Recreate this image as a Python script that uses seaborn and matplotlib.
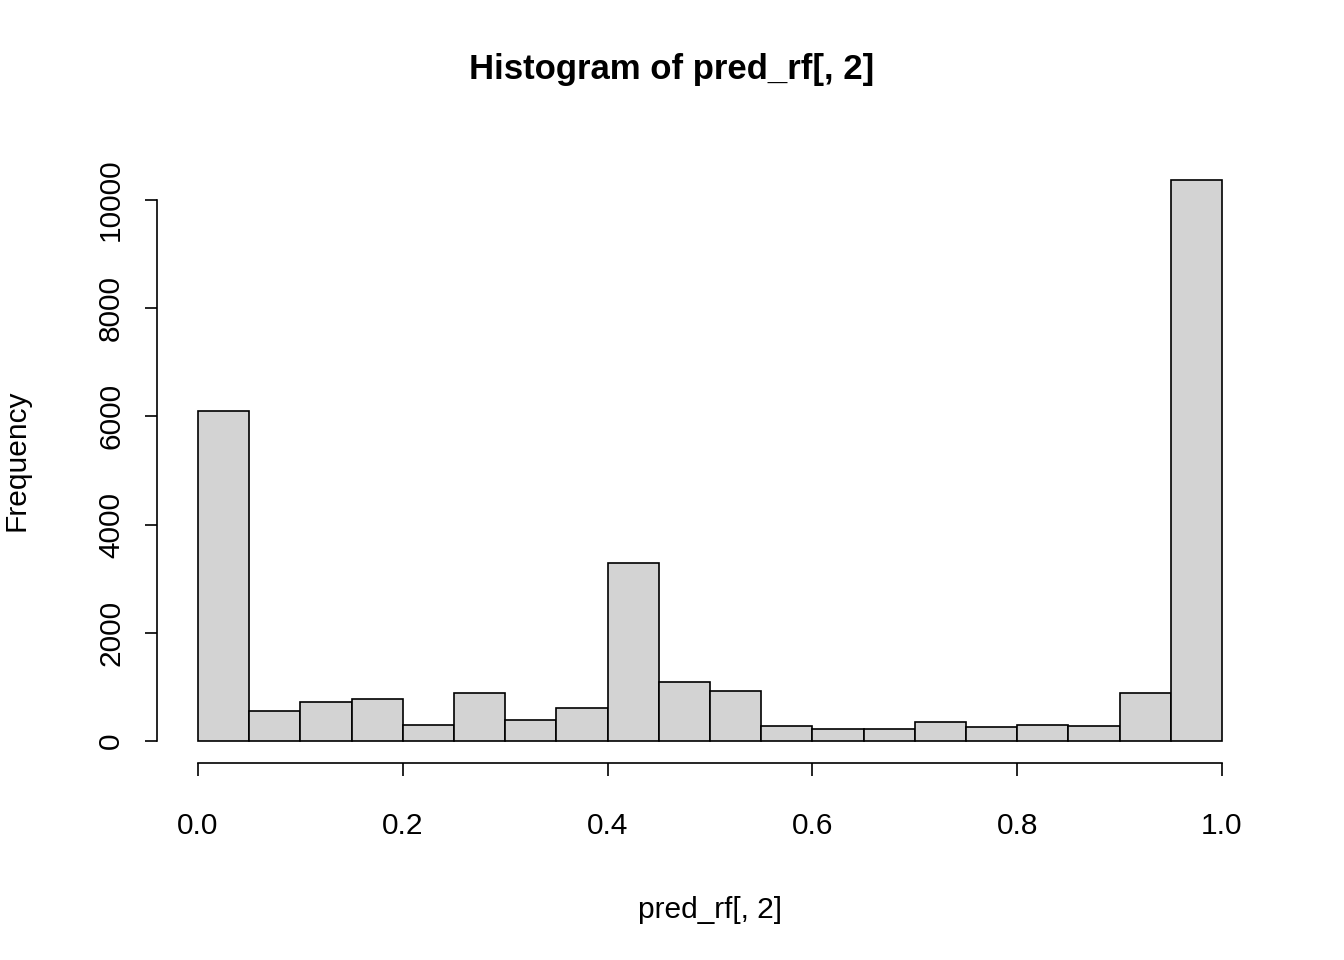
import matplotlib
matplotlib.use("Agg")
import matplotlib.pyplot as plt
import seaborn as sns
import numpy as np

edges = [0.0,0.05,0.1,0.15,0.2,0.25,0.3,0.35,0.4,0.45,0.5,0.55,0.6,0.65,0.7,0.75,0.8,0.85,0.9,0.95,1.0]
counts = [6100,555,720,776,296,887,388,610,3290,1090,924,277,222,222,351,259,296,277,887,10370]
xticks = [0.0,0.2,0.4,0.6,0.8,1.0]
yticks = [0,2000,4000,6000,8000,10000]

sns.set_style("white")
plt.rcParams['font.family'] = ['Liberation Sans', 'DejaVu Sans']
plt.rcParams['text.color'] = 'black'
plt.rcParams['axes.labelcolor'] = 'black'

fig = plt.figure(figsize=(13.44, 9.6), dpi=100)
ax = fig.add_axes([0.1168, 0.2047, 0.8229, 0.6313])
centers = [(edges[i]+edges[i+1])/2 for i in range(len(counts))]
sns.histplot(x=centers, weights=counts, bins=edges, color='#d3d3d3', edgecolor='black',
             alpha=1, linewidth=1.2, ax=ax)
ax.set_xlim(-0.04, 1.04)
ax.set_ylim(-0.04*max(counts), 1.04*max(counts))
for s in ['top', 'right']:
    ax.spines[s].set_visible(False)
ax.spines['left'].set_bounds(0, 10000)
ax.spines['bottom'].set_bounds(0, 1)
for s in ['left', 'bottom']:
    ax.spines[s].set_color('black')
    ax.spines[s].set_linewidth(1.2)
ax.set_xticks(xticks)
ax.set_xticklabels([f"{v:.1f}" for v in xticks])
ax.set_yticks(yticks)
ax.set_yticklabels([str(v) for v in yticks], rotation=90, va='center')
ax.tick_params(axis='both', direction='out', length=9, width=1.2, labelsize=21.5, colors='black', bottom=True, left=True)
ax.tick_params(axis='x', pad=26)
ax.tick_params(axis='y', pad=14)
ax.set_xlabel("pred_rf[, 2]", fontsize=21.5, labelpad=40)
ax.set_ylabel("Frequency", fontsize=21.5, labelpad=48)
fig.suptitle("Histogram of pred_rf[, 2]", fontsize=25, fontweight='bold', y=0.945)
fig.savefig("out.png", dpi=100)
